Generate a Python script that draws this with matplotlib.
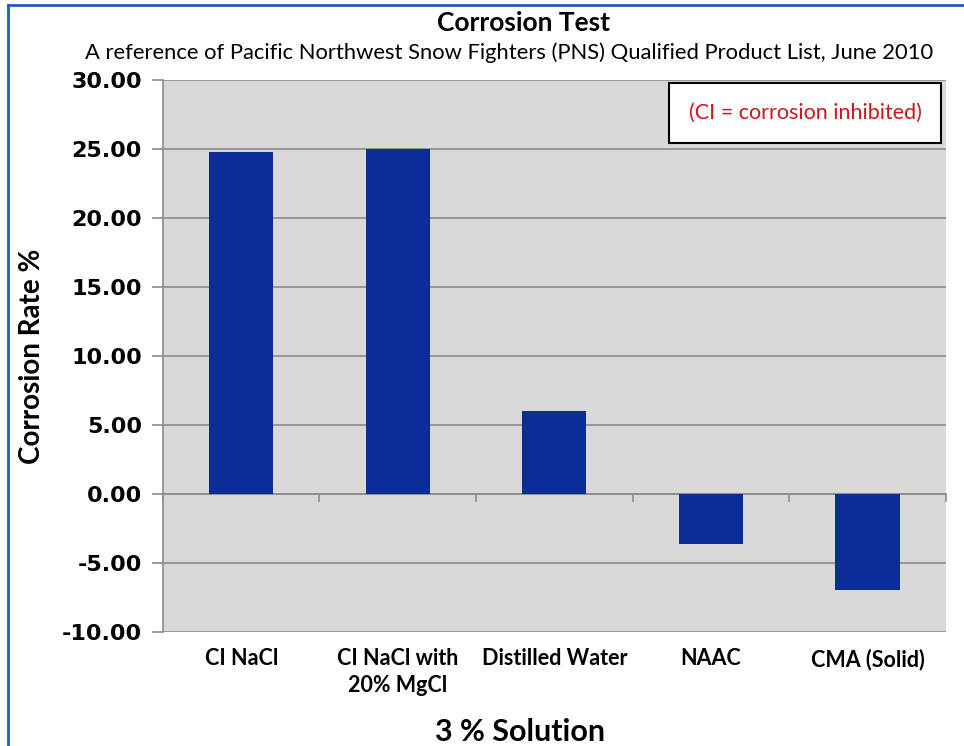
import matplotlib.pyplot as plt
from matplotlib.patches import Rectangle
from matplotlib.lines import Line2D
import numpy as np

categories = ['CI NaCl', 'CI NaCl with\n20% MgCl', 'Distilled Water', 'NAAC', 'CMA (Solid)']
rates = [24.8, 25.0, 6.0, -3.6, -7.0]
yticks = [-10, -5, 0, 5, 10, 15, 20, 25, 30]

plt.rcParams['font.family'] = ['Lato', 'DejaVu Sans']

fig = plt.figure(figsize=(9.64, 7.46), dpi=100)
ax = fig.add_axes([0.169, 0.153, 0.812, 0.740])
ax.set_facecolor('#D9D9D9')

x = np.arange(len(categories))
ax.bar(x, rates, width=0.41, color='#0A2D96', zorder=3)

ax.set_xlim(-0.5, len(categories) - 0.5)
ax.set_ylim(-10, 30)
ax.set_yticks(yticks)
ax.set_yticklabels(['%.2f' % v for v in yticks], fontsize=16, fontweight='bold',
                   family='DejaVu Sans')
ax.yaxis.grid(True, color='#8C8C8C', linewidth=1.2, zorder=1)
ax.tick_params(axis='y', length=8, color='#8C8C8C', width=1.2, pad=7)

# category labels below the plot area
ax.set_xticks([])
for i, lab in enumerate(categories):
    ax.text(i, -11.2, lab, ha='center', va='top', fontsize=15.5, fontweight='bold',
            linespacing=1.35)
# zero axis with ticks between categories
ax.axhline(0, color='#8C8C8C', linewidth=1.2, zorder=2)
for b in np.arange(-0.5, len(categories), 1.0):
    ax.plot([b, b], [0, -0.55], color='#8C8C8C', linewidth=1.2, zorder=2, clip_on=False)

for s in ['top', 'right', 'bottom']:
    ax.spines[s].set_visible(False)
ax.spines['left'].set_color('#8C8C8C')
ax.spines['left'].set_linewidth(1.2)

ax.set_ylabel('Corrosion Rate %', fontsize=20, fontweight='bold', labelpad=12)
fig.text(0.54, 0.0, '3 % Solution', ha='center', va='bottom', fontsize=22, fontweight='bold')

fig.text(0.543, 0.969, 'Corrosion Test', ha='center', va='center', fontsize=19, fontweight='bold')
fig.text(0.528, 0.930, 'A reference of Pacific Northwest Snow Fighters (PNS) Qualified Product List, June 2010',
         ha='center', va='center', fontsize=15.8)

# note box
ax.add_patch(Rectangle((0.647, 0.886), 0.347, 0.109, transform=ax.transAxes,
                       facecolor='white', edgecolor='black', linewidth=1.5, zorder=5))
ax.text(0.8205, 0.9405, '(CI = corrosion inhibited)', transform=ax.transAxes,
        ha='center', va='center', color='#D0141E', fontsize=15.5, zorder=6)

# blue frame on left and top
fig.add_artist(Line2D([0.008, 0.008], [0, 0.993], transform=fig.transFigure, color='#1F5FB4', linewidth=2))
fig.add_artist(Line2D([0.008, 1.0], [0.993, 0.993], transform=fig.transFigure, color='#1F5FB4', linewidth=2))

fig.savefig('out.png', dpi=100, facecolor='white')
